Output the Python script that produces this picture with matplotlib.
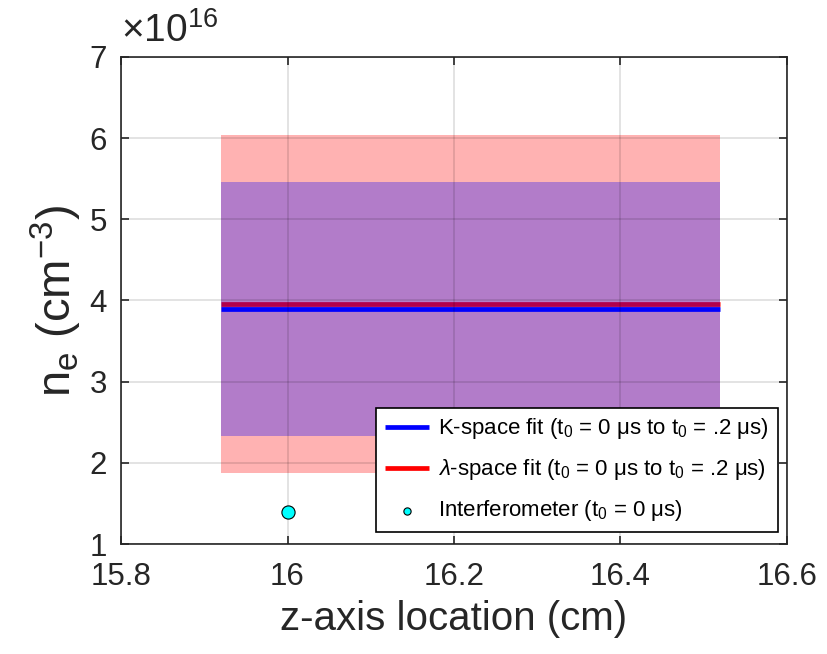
import numpy as np
import matplotlib
matplotlib.use("Agg")
import matplotlib.pyplot as plt
from matplotlib.ticker import FuncFormatter

plt.rcParams.update({
    "font.family": "Liberation Sans",
    "mathtext.fontset": "custom",
    "mathtext.rm": "Liberation Sans",
    "mathtext.it": "Liberation Sans:italic",
    "mathtext.sf": "Liberation Sans",
})

# data
z_span = [15.92, 16.52]
k_fit = [3.90e16, 3.90e16]
k_lo = [2.325e16, 2.325e16]
k_hi = [5.465e16, 5.465e16]
lam_fit = [3.957e16, 3.957e16]
lam_lo = [1.873e16, 1.873e16]
lam_hi = [6.045e16, 6.045e16]
interf_z = [16.0]
interf_n = [1.40e16]

SCALE = 1e16

fig = plt.figure(figsize=(8.27, 6.54), dpi=100)
ax = fig.add_axes([121 / 827, 1 - 544 / 654, 666 / 827, 487 / 654])

# red band + line sit under the translucent blue band
ax.fill_between(z_span, lam_lo, lam_hi, color="red", alpha=0.3, linewidth=0, zorder=1)
l_lam, = ax.plot(z_span, lam_fit, color="red", linewidth=3.4,
                 solid_capstyle="butt", zorder=1.5)
ax.fill_between(z_span, k_lo, k_hi, color="blue", alpha=0.3, linewidth=0, zorder=1.6)
l_k, = ax.plot(z_span, k_fit, color="blue", linewidth=3.4,
               solid_capstyle="butt", zorder=2)
pt = ax.scatter(interf_z, interf_n, s=90, color="cyan", edgecolors="black",
                linewidths=0.8, zorder=5)

ax.set_xlim(15.8, 16.6)
ax.set_ylim(1e16, 7e16)
ax.set_xticks([15.8, 16.0, 16.2, 16.4, 16.6])
ax.set_xticklabels(["15.8", "16", "16.2", "16.4", "16.6"])
ax.set_yticks(np.arange(1, 8) * SCALE)
ax.yaxis.set_major_formatter(FuncFormatter(lambda v, p: f"{v / SCALE:g}"))
ax.text(0.0, 1.015, r"$\times$10$^\mathregular{16}$", transform=ax.transAxes,
        fontsize=28, ha="left", va="bottom", color="#262626")

ax.set_axisbelow(False)
ax.grid(True, color="black", alpha=0.13, linewidth=1.2, zorder=3)
ax.tick_params(direction="in", top=True, right=True, labelsize=22.5,
               length=6, width=1.2, pad=10, colors="#262626")
ax.tick_params(axis="x", pad=13)
for s in ax.spines.values():
    s.set_linewidth(1.2)
    s.set_color("#262626")

ax.set_xlabel("z-axis location (cm)", fontsize=29, labelpad=6, color="#262626")
ax.set_ylabel(r"n$_\mathregular{e}$ (cm$^\mathregular{-3}$)", fontsize=34,
              labelpad=4, color="#262626")

leg = ax.legend([l_k, l_lam, pt],
                [r"K-space fit (t$_\mathregular{0}$ = 0 μs to t$_\mathregular{0}$ = .2 μs)",
                 r"$\lambda$-space fit (t$_\mathregular{0}$ = 0 μs to t$_\mathregular{0}$ = .2 μs)",
                 r"Interferometer (t$_\mathregular{0}$ = 0 μs)"],
                loc="lower right", bbox_to_anchor=(0.9865, 0.024),
                fontsize=16, frameon=True, fancybox=False, framealpha=1,
                edgecolor="black", handlelength=2.0, borderpad=0.4,
                labelspacing=0.72, handletextpad=0.4, markerscale=0.55,
                borderaxespad=0)
leg.set_zorder(10)
leg.get_frame().set_linewidth(1.2)

fig.savefig("out.png", dpi=100)
